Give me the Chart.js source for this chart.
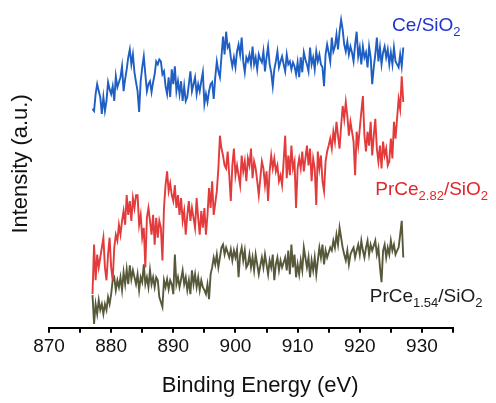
<!DOCTYPE html>
<html>
<head>
<meta charset="utf-8">
<script src="https://cdn.jsdelivr.net/npm/chart.js@4.4.1/dist/chart.umd.min.js"></script>
<style>
  html, body { margin: 0; padding: 0; background: #fff; }
  #wrap { width: 496px; height: 403px; position: relative; }
</style>
</head>
<body>
<div id="wrap"><canvas id="xpsChart"></canvas></div>
<script>
// Binding energy (eV), shared by all three spectra
const energy = [
  877, 877.25, 877.5, 877.75, 878, 878.25, 878.5, 878.75,
  879, 879.25, 879.5, 879.75, 880, 880.25, 880.5, 880.75,
  881, 881.25, 881.5, 881.75, 882, 882.25, 882.5, 882.75,
  883, 883.25, 883.5, 883.75, 884, 884.25, 884.5, 884.75,
  885, 885.25, 885.5, 885.75, 886, 886.25, 886.5, 886.75,
  887, 887.25, 887.5, 887.75, 888, 888.25, 888.5, 888.75,
  889, 889.25, 889.5, 889.75, 890, 890.25, 890.5, 890.75,
  891, 891.25, 891.5, 891.75, 892, 892.25, 892.5, 892.75,
  893, 893.25, 893.5, 893.75, 894, 894.25, 894.5, 894.75,
  895, 895.25, 895.5, 895.75, 896, 896.25, 896.5, 896.75,
  897, 897.25, 897.5, 897.75, 898, 898.25, 898.5, 898.75,
  899, 899.25, 899.5, 899.75, 900, 900.25, 900.5, 900.75,
  901, 901.25, 901.5, 901.75, 902, 902.25, 902.5, 902.75,
  903, 903.25, 903.5, 903.75, 904, 904.25, 904.5, 904.75,
  905, 905.25, 905.5, 905.75, 906, 906.25, 906.5, 906.75,
  907, 907.25, 907.5, 907.75, 908, 908.25, 908.5, 908.75,
  909, 909.25, 909.5, 909.75, 910, 910.25, 910.5, 910.75,
  911, 911.25, 911.5, 911.75, 912, 912.25, 912.5, 912.75,
  913, 913.25, 913.5, 913.75, 914, 914.25, 914.5, 914.75,
  915, 915.25, 915.5, 915.75, 916, 916.25, 916.5, 916.75,
  917, 917.25, 917.5, 917.75, 918, 918.25, 918.5, 918.75,
  919, 919.25, 919.5, 919.75, 920, 920.25, 920.5, 920.75,
  921, 921.25, 921.5, 921.75, 922, 922.25, 922.5, 922.75,
  923, 923.25, 923.5, 923.75, 924, 924.25, 924.5, 924.75,
  925, 925.25, 925.5, 925.75, 926, 926.25, 926.5, 926.75,
  927
];

// Intensity (a.u., offset spectra as in the figure)
const ceSiO2 = [
  221, 219, 236, 246, 239, 233, 216, 233, 219, 229,
  248, 241, 236, 244, 229, 254, 243, 248, 253, 264,
  239, 251, 261, 273, 281, 266, 276, 258, 248, 239,
  218, 249, 263, 274, 256, 239, 246, 249, 238, 248,
  256, 269, 266, 271, 269, 256, 259, 244, 236, 253,
  233, 261, 246, 264, 239, 249, 236, 249, 229, 244,
  229, 233, 246, 259, 239, 246, 253, 236, 246, 239,
  249, 258, 226, 236, 228, 239, 246, 248, 231, 253,
  269, 259, 253, 274, 294, 276, 299, 283, 286, 273,
  264, 273, 263, 279, 286, 276, 293, 269, 258, 273,
  269, 276, 266, 284, 266, 273, 261, 276, 271, 268,
  279, 259, 273, 284, 266, 258, 244, 261, 269, 279,
  263, 269, 274, 266, 259, 276, 266, 269, 261, 268,
  264, 256, 268, 253, 273, 258, 278, 271, 266, 259,
  283, 266, 273, 261, 279, 269, 276, 266, 263, 244,
  276, 286, 278, 269, 293, 279, 284, 296, 281, 299,
  311, 301, 286, 279, 289, 276, 284, 278, 269, 286,
  299, 274, 283, 266, 284, 273, 278, 263, 284, 273,
  246, 263, 276, 293, 269, 283, 266, 278, 284, 273,
  281, 266, 278, 266, 283, 269, 266, 263, 276, 264,
  283
];

const prCe282 = [
  34, 84, 48, 74, 61, 71, 81, 91, 61, 48,
  74, 91, 61, 48, 81, 94, 88, 104, 94, 108,
  118, 104, 134, 114, 128, 108, 131, 121, 134, 134,
  104, 114, 91, 101, 61, 111, 121, 108, 94, 114,
  84, 111, 91, 108, 101, 68, 121, 144, 158, 138,
  146, 134, 128, 144, 121, 134, 114, 131, 108, 118,
  94, 114, 128, 108, 121, 111, 101, 131, 111, 94,
  118, 101, 121, 94, 114, 141, 121, 148, 114, 126,
  138, 161, 194, 181, 174, 164, 161, 178, 154, 128,
  164, 181, 154, 164, 154, 144, 174, 158, 168, 148,
  171, 164, 181, 151, 168, 161, 148, 134, 151, 168,
  161, 144, 158, 128, 158, 174, 161, 171, 158, 164,
  148, 154, 144, 168, 194, 151, 174, 154, 184, 161,
  168, 121, 161, 171, 161, 178, 158, 171, 184, 164,
  181, 148, 171, 161, 124, 178, 161, 174, 148, 138,
  168, 178, 184, 191, 181, 198, 188, 208, 194, 181,
  204, 224, 211, 228, 214, 194, 208, 198, 188, 154,
  198, 184, 201, 218, 234, 194, 178, 198, 184, 208,
  174, 194, 211, 181, 168, 184, 161, 188, 174, 181,
  164, 168, 191, 171, 208, 191, 211, 231, 221, 254,
  228
];

const prCe154 = [
  33, 4, 24, 14, 28, 18, 24, 14, 24, 18,
  31, 24, 34, 48, 51, 38, 48, 41, 51, 38,
  56, 44, 59, 44, 63, 49, 58, 51, 44, 54,
  38, 51, 46, 64, 44, 51, 41, 58, 44, 51,
  41, 51, 48, 31, 26, 21, 48, 41, 49, 39,
  48, 44, 34, 74, 44, 51, 41, 49, 58, 44,
  51, 38, 48, 34, 58, 44, 54, 41, 51, 38,
  48, 41, 38, 34, 44, 29, 54, 61, 71, 64,
  74, 61, 71, 81, 84, 74, 81, 76, 71, 79,
  68, 78, 71, 79, 51, 74, 81, 68, 78, 61,
  64, 74, 61, 71, 58, 74, 64, 54, 63, 71,
  61, 74, 64, 54, 68, 61, 74, 48, 64, 71,
  58, 68, 61, 66, 71, 58, 78, 54, 84, 61,
  74, 51, 64, 54, 68, 58, 81, 71, 61, 71,
  51, 68, 58, 71, 54, 68, 81, 71, 84, 64,
  78, 71, 76, 81, 78, 88, 81, 94, 84, 101,
  91, 81, 74, 68, 78, 64, 74, 78, 81, 71,
  78, 84, 74, 88, 78, 71, 81, 88, 74, 84,
  78, 83, 88, 74, 81, 61, 46, 78, 84, 71,
  81, 74, 88, 78, 84, 74, 78, 81, 94, 108,
  71
];

const xTicks = [870, 880, 890, 900, 910, 920, 930];

const FONT = "'Liberation Sans', Arial, sans-serif";

function toPoints(ys) {
  return energy.map((e, i) => ({ x: e, y: ys[i] }));
}

// sample names with subscripts, anchored in data space
const seriesLabels = [
  { x: 925.2, y: 300, color: "#2233cc", parts: [["Ce/SiO", 0], ["2", 1]] },
  { x: 922.5, y: 134, color: "#e3262b", parts: [["PrCe", 0], ["2.82", 1], ["/SiO", 0], ["2", 1]] },
  { x: 921.6, y: 26, color: "#1c1c1c", parts: [["PrCe", 0], ["1.54", 1], ["/SiO", 0], ["2", 1]] }
];

const labelPlugin = {
  id: "seriesLabels",
  afterDatasetsDraw(chart) {
    const ctx = chart.ctx;
    const xs = chart.scales.x;
    const ys = chart.scales.y;
    ctx.save();
    ctx.textBaseline = "alphabetic";
    ctx.textAlign = "left";
    seriesLabels.forEach(lab => {
      let px = xs.getPixelForValue(lab.x);
      const py = ys.getPixelForValue(lab.y);
      ctx.fillStyle = lab.color;
      lab.parts.forEach(([txt, sub]) => {
        ctx.font = (sub ? "13px " : "19px ") + FONT;
        ctx.fillText(txt, px, sub ? py + 5 : py);
        px += ctx.measureText(txt).width;
      });
    });
    ctx.restore();
  }
};

new Chart(document.getElementById("xpsChart"), {
  type: "line",
  data: {
    datasets: [
      { label: "Ce/SiO2", data: toPoints(ceSiO2), borderColor: "#1f5fc4" },
      { label: "PrCe2.82/SiO2", data: toPoints(prCe282), borderColor: "#e33b3b" },
      { label: "PrCe1.54/SiO2", data: toPoints(prCe154), borderColor: "#58583a" }
    ]
  },
  options: {
    responsive: true,
    maintainAspectRatio: false,
    animation: false,
    elements: {
      line: { borderWidth: 1.9, tension: 0 },
      point: { radius: 0 }
    },
    layout: {
      padding: { left: 4, right: 43, top: 0, bottom: 0 }
    },
    plugins: {
      legend: { display: false },
      tooltip: { enabled: false }
    },
    scales: {
      x: {
        type: "linear",
        min: 870,
        max: 935,
        border: { display: true, color: "#000", width: 2 },
        grid: {
          display: true,
          drawOnChartArea: false,
          drawTicks: true,
          tickLength: 5,
          color: "#000",
          lineWidth: 2
        },
        ticks: {
          stepSize: 5,
          autoSkip: false,
          maxRotation: 0,
          padding: 3,
          color: "#111",
          font: { family: FONT, size: 19 },
          callback: v => (xTicks.includes(v) ? String(v) : "")
        },
        title: {
          display: true,
          text: "\u00a0\u00a0\u00a0Binding Energy (eV)",
          color: "#111",
          font: { family: FONT, size: 22 },
          padding: { top: 11, bottom: 4 }
        }
      },
      y: {
        min: 0,
        max: 331,
        border: { display: false },
        grid: { display: false, drawTicks: false },
        ticks: { display: false },
        title: {
          display: true,
          text: "Intensity (a.u.)",
          color: "#111",
          font: { family: FONT, size: 22 },
          padding: { top: 4, bottom: 14.6 }
        }
      }
    }
  },
  plugins: [labelPlugin]
});
</script>
</body>
</html>
